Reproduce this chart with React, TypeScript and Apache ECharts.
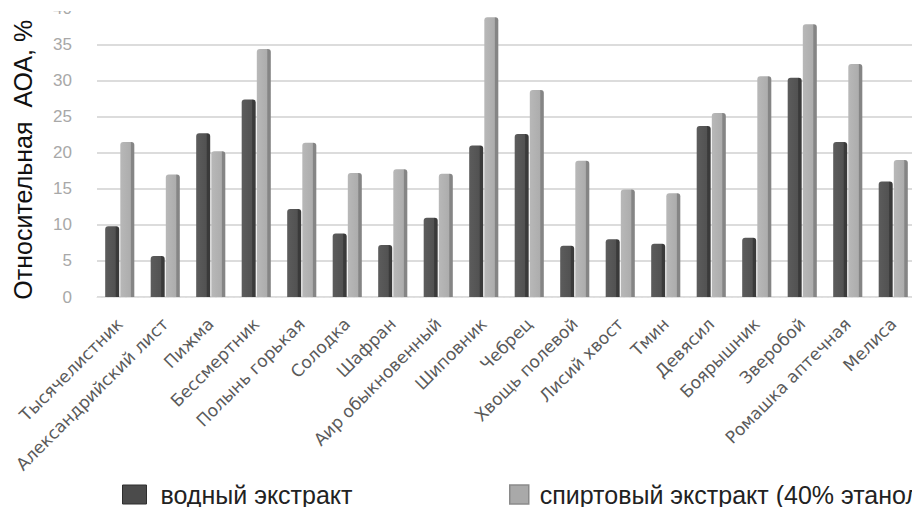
import React, { useEffect, useRef } from "react";
import * as echarts from "echarts";

const categories = [
  "Тысячелистник",
  "Александрийский лист",
  "Пижма",
  "Бессмертник",
  "Полынь горькая",
  "Солодка",
  "Шафран",
  "Аир обыкновенный",
  "Шиповник",
  "Чебрец",
  "Хвощь полевой",
  "Лисий хвост",
  "Тмин",
  "Девясил",
  "Боярышник",
  "Зверобой",
  "Ромашка аптечная",
  "Мелиса",
];

const waterExtract = [9.8, 5.7, 22.7, 27.4, 12.2, 8.8, 7.2, 11.0, 21.0, 22.6, 7.1, 8.0, 7.4, 23.7, 8.2, 30.4, 21.5, 16.0];
const alcoholExtract = [21.5, 17.0, 20.2, 34.4, 21.4, 17.2, 17.7, 17.1, 38.8, 28.7, 18.9, 14.9, 14.4, 25.5, 30.6, 37.8, 32.3, 19.0];

const seriesNames = ["водный экстракт", "спиртовый экстракт (40% этанол)"];
const yAxisTitle = "Относительная  АОА, %";

export default function App() {
  const ref = useRef<HTMLDivElement>(null);
  useEffect(() => {
    document.body.style.margin = "0";
    document.body.style.overflow = "hidden";
    if (!ref.current) return;
    const chart = echarts.init(ref.current, undefined, { renderer: "svg" });
    const darkGrad = new echarts.graphic.LinearGradient(0, 0, 1, 0, [
      { offset: 0, color: "#5c5c5c" },
      { offset: 0.72, color: "#525252" },
      { offset: 0.78, color: "#3a3a3a" },
      { offset: 1, color: "#3a3a3a" },
    ]);
    const lightGrad = new echarts.graphic.LinearGradient(0, 0, 1, 0, [
      { offset: 0, color: "#b8b8b8" },
      { offset: 0.72, color: "#adadad" },
      { offset: 0.78, color: "#858585" },
      { offset: 1, color: "#858585" },
    ]);
    const legendText = {
      fontSize: 25,
      color: "#222",
      fontFamily: "Liberation Sans",
      padding: [0, 0, 0, 9],
    };
    chart.setOption({
      animation: false,
      backgroundColor: "#ffffff",
      grid: { left: 97, top: 1, width: 819, height: 296, containLabel: false },
      graphic: [
        {
          type: "rect",
          left: 0,
          top: 0,
          z: 100,
          shape: { width: 1000, height: 11 },
          style: { fill: "#ffffff" },
          silent: true,
        },
      ],
      legend: [
        {
          data: [
            {
              name: seriesNames[0],
              itemStyle: { color: "#4b4b4b", borderColor: "#2e2e2e", borderWidth: 1 },
            },
          ],
          left: 122,
          top: 482,
          padding: 0,
          itemWidth: 24,
          itemHeight: 19,
          icon: "rect",
          textStyle: legendText,
        },
        {
          data: [
            {
              name: seriesNames[1],
              itemStyle: { color: "#a9a9a9", borderColor: "#8a8a8a", borderWidth: 1.5 },
            },
          ],
          left: 509,
          top: 482,
          padding: 0,
          itemWidth: 19,
          itemHeight: 19,
          icon: "rect",
          textStyle: { ...legendText, padding: [0, 0, 0, 6] },
        },
      ],
      xAxis: {
        type: "category",
        data: categories,
        axisLine: { show: true, lineStyle: { color: "#e2e2e2", width: 1, type: "dashed" } },
        axisTick: { show: false },
        axisLabel: {
          interval: 0,
          rotate: 45,
          margin: 24,
          fontSize: 17,
          color: "#5a5a5a",
          fontFamily: "DejaVu Sans",
        },
      },
      yAxis: {
        type: "value",
        min: 0,
        max: 40,
        interval: 5,
        name: yAxisTitle,
        nameLocation: "middle",
        nameGap: 62,
        nameTextStyle: {
          fontSize: 25,
          color: "#111",
          fontFamily: "Liberation Sans",
          padding: [0, 14, 0, 0],
        },
        axisLine: { show: false },
        axisTick: { show: false },
        axisLabel: {
          fontSize: 17,
          color: "#a8a8a8",
          margin: 25,
          fontFamily: "Liberation Sans",
          verticalAlign: "middle",
          padding: [20, 0, 0, 0],
        },
        splitLine: { lineStyle: { color: "#dcdcdc", width: 2 } },
      },
      series: [
        {
          name: seriesNames[0],
          type: "bar",
          data: waterExtract,
          barWidth: 14,
          barGap: "8%",
          itemStyle: { color: darkGrad, borderRadius: [3, 3, 0, 0] },
        },
        {
          name: seriesNames[1],
          type: "bar",
          data: alcoholExtract,
          barWidth: 14,
          itemStyle: { color: lightGrad, borderRadius: [3, 3, 0, 0] },
        },
      ],
    });
    return () => chart.dispose();
  }, []);
  return (
    <div
      ref={ref}
      style={{ position: "absolute", left: 0, top: 0, width: 1000, height: 507 }}
    />
  );
}
